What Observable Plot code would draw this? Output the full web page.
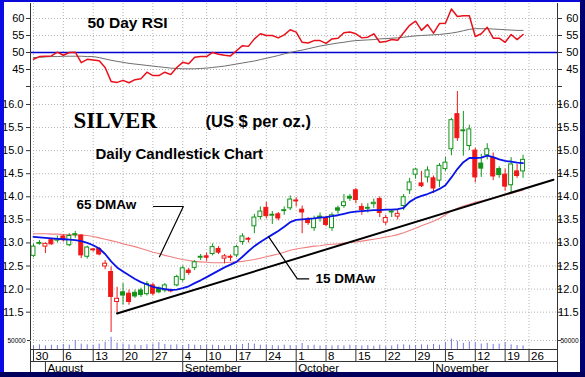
<!DOCTYPE html>
<html><head><meta charset="utf-8">
<script src="https://cdn.jsdelivr.net/npm/d3@7"></script>
<script src="https://cdn.jsdelivr.net/npm/@observablehq/plot@0.6"></script>
<style>
body{margin:0;background:#fff;}
#wrap{position:relative;width:585px;height:377px;overflow:hidden;background:#fff;font-family:"Liberation Sans",Arial,sans-serif;}
#wrap svg{position:absolute;left:0;}
.bd{position:absolute;}
</style></head><body>
<div id="wrap"></div>
<script>
// ---- data (trading days Jul 30 .. Nov 23, 2007; index 0..82) ----
const weekIdx    = [0,5,10,15,20,25,29,34,39,44,49,54,59,64,69,74,79,83];
const weekLabels = ["30","6","13","20","27","4","10","17","24","1","8","15","22","29","5","12","19","26"];
const monthIdx    = [2,25,44,67];
const monthLabels = ["August","September","October","November"];

const open  = [12.72,12.98,12.92,13.06,13.05,13.14,12.95,13.17,13.16,12.70,12.86,12.87,12.49,12.37,11.72,11.93,11.90,11.92,11.97,11.89,12.08,12.01,11.97,11.98,12.08,12.20,12.40,12.46,12.68,12.71,12.76,12.87,12.66,12.70,12.73,13.02,13.09,13.36,13.56,13.76,13.59,13.62,13.69,13.75,13.92,13.72,13.50,13.32,13.55,13.53,13.32,13.75,13.80,14.00,14.14,13.78,13.74,13.84,13.95,13.44,13.66,13.57,13.80,14.14,14.48,14.29,14.42,14.40,14.35,14.60,15.03,15.79,15.42,15.10,15.00,14.72,14.90,14.84,14.60,14.48,14.25,14.55,14.55];
const high  = [12.97,13.05,13.00,13.08,13.15,13.18,13.20,13.25,13.18,12.93,12.88,12.90,12.62,12.48,12.04,12.12,11.98,11.98,12.02,12.16,12.12,12.05,12.12,12.00,12.30,12.50,12.45,12.62,12.75,12.78,12.98,12.92,12.75,12.74,12.95,13.20,13.12,13.62,13.78,13.88,13.68,13.66,13.78,14.02,13.98,13.80,13.55,13.58,13.65,13.58,13.65,13.80,14.05,14.05,14.18,13.85,13.85,13.95,14.00,13.60,13.72,13.70,14.05,14.40,14.62,14.55,14.65,14.45,14.72,14.85,15.70,16.28,15.85,15.55,15.05,14.92,15.15,14.95,14.65,14.60,14.85,14.70,14.90];
const low   = [12.68,12.95,12.77,12.95,13.00,13.02,12.92,13.10,12.66,12.65,12.80,12.72,12.42,11.06,11.47,11.65,11.65,11.80,11.82,11.85,11.85,11.90,11.92,11.92,12.05,12.15,12.30,12.40,12.62,12.60,12.72,12.75,12.55,12.60,12.68,12.95,13.00,13.20,13.50,13.52,13.40,13.48,13.60,13.70,13.78,13.20,13.38,13.25,13.45,13.35,13.25,13.62,13.75,13.90,13.85,13.60,13.65,13.75,13.55,13.38,13.55,13.50,13.70,14.05,14.38,14.20,14.30,14.07,14.20,14.55,14.89,15.20,14.88,15.00,14.30,14.42,14.80,14.35,14.40,14.12,14.08,14.40,14.40];
const close = [12.92,13.00,12.98,12.97,13.08,13.06,13.15,13.19,12.73,12.90,12.84,12.75,12.55,11.83,11.79,11.86,11.72,11.84,11.87,12.11,11.90,11.93,12.08,11.95,12.26,12.45,12.35,12.58,12.70,12.68,12.91,12.79,12.71,12.68,12.91,13.14,13.07,13.55,13.68,13.58,13.61,13.53,13.71,13.94,13.90,13.66,13.43,13.52,13.57,13.39,13.60,13.70,13.88,13.96,13.93,13.71,13.76,13.87,13.65,13.54,13.68,13.63,13.99,14.31,14.59,14.23,14.57,14.18,14.67,14.74,15.66,15.27,15.44,15.46,14.42,14.61,15.03,14.44,14.47,14.22,14.70,14.45,14.80];
const volume = [22000,26000,20000,24000,22000,28000,24000,50000,30000,26000,24000,30000,40000,68000,36000,30000,26000,24000,22000,26000,30000,38000,28000,24000,26000,22000,28000,24000,22000,26000,24000,22000,20000,22000,26000,28000,34000,30000,24000,26000,22000,20000,24000,22000,20000,34000,22000,24000,20000,22000,20000,22000,20000,24000,22000,20000,22000,18000,24000,16000,20000,26000,26000,24000,22000,26000,24000,28000,24000,40000,58000,46000,34000,42000,38000,30000,34000,28000,30000,38000,26000,22000,20000];
const ma15 = [13.13,13.12,13.11,13.10,13.09,13.08,13.07,13.06,13.04,13.00,12.95,12.88,12.76,12.60,12.47,12.38,12.30,12.22,12.15,12.10,12.05,12.02,12.00,11.98,11.99,12.02,12.06,12.13,12.19,12.26,12.33,12.40,12.47,12.53,12.59,12.70,12.82,12.93,13.02,13.10,13.18,13.26,13.35,13.45,13.50,13.51,13.52,13.53,13.55,13.56,13.58,13.60,13.63,13.66,13.68,13.69,13.70,13.71,13.71,13.72,13.72,13.73,13.76,13.89,13.97,14.02,14.06,14.11,14.17,14.25,14.42,14.60,14.75,14.84,14.84,14.85,14.89,14.86,14.81,14.78,14.76,14.74,14.73];
const ma65 = [13.20,13.20,13.20,13.19,13.19,13.18,13.18,13.17,13.17,13.16,13.14,13.11,13.08,13.05,13.02,12.98,12.95,12.92,12.88,12.84,12.80,12.77,12.73,12.70,12.67,12.64,12.62,12.60,12.59,12.58,12.57,12.57,12.57,12.58,12.59,12.60,12.62,12.64,12.67,12.70,12.73,12.76,12.80,12.84,12.87,12.89,12.91,12.93,12.94,12.96,12.97,12.98,13.00,13.01,13.02,13.04,13.06,13.08,13.10,13.13,13.15,13.18,13.22,13.27,13.32,13.37,13.42,13.47,13.53,13.61,13.69,13.75,13.80,13.84,13.88,13.91,13.94,13.97,14.00,14.04,14.07,14.11,14.14];
const rsi = [48.0,48.8,48.9,49.0,50.1,49.2,50.0,50.1,47.0,48.0,47.8,47.6,45.6,41.5,41.2,41.8,41.1,42.0,42.3,44.2,43.2,43.2,44.2,43.5,45.6,47.1,46.7,48.6,48.8,48.8,50.0,49.5,49.2,49.0,50.5,52.0,51.8,54.0,55.5,55.0,55.0,54.3,55.2,56.7,56.0,53.0,52.8,53.5,53.5,52.7,54.0,54.2,55.8,56.0,55.5,54.3,54.5,55.5,53.0,53.2,53.8,53.6,55.8,58.0,59.2,56.5,58.2,55.7,58.5,58.6,62.8,60.6,60.8,60.8,54.7,55.5,57.4,54.2,54.2,53.0,55.3,53.8,55.3];
const rsiAvg = [48.5,48.6,48.7,48.8,48.8,48.9,48.9,48.9,48.9,48.8,48.8,48.5,48.1,47.7,47.4,47.1,46.8,46.6,46.4,46.2,46.0,45.8,45.6,45.4,45.3,45.2,45.2,45.2,45.3,45.4,45.6,45.8,46.0,46.3,46.6,46.9,47.2,47.5,47.9,48.3,48.7,49.1,49.6,50.0,50.4,50.7,51.1,51.5,51.9,52.2,52.5,52.8,53.0,53.3,53.5,53.6,53.7,53.8,54.0,54.1,54.2,54.3,54.5,54.7,54.9,55.0,55.1,55.2,55.3,55.5,55.7,56.0,56.4,56.8,57.0,57.0,57.0,56.9,56.8,56.7,56.6,56.5,56.5];
const trendX = [14, 87.1];
const trendY = [11.47, 14.37];
const lead65X = [20.1, 25.1, 21.1];
const lead65Y = [13.79, 13.79, 12.70];
const lead15X = [46.1, 44.2, 39.4];
const lead15Y = [12.22, 12.22, 13.13];
const rsiTicks = [40,45,50,55,60];
const priceTicks = [11.5,12.0,12.5,13.0,13.5,14.0,14.5,15.0,15.5,16.0];

// ---- layout ----
const W = 585, ML = 30, MR = 28;
const XD = [-0.5, 87.77];
const FONT = "Liberation Sans, Arial, sans-serif";
const GRID = {stroke: "#b4b4b4", strokeDasharray: "1,2", strokeWidth: 1};
const AX = "#333";
const green = "#12941a", red = "#f01818";
const idx = d3.range(close.length);
const bars = idx.map(i => {
  const gain = i === 0 ? close[i] >= open[i] : close[i] >= close[i - 1];
  const col = gain ? green : red;
  return {i, o: open[i], h: high[i], l: low[i], c: close[i], col, fill: close[i] >= open[i] ? "#ffffff" : col};
});
const wrap = document.getElementById("wrap");
function place(svg, top) { svg.style.top = top + "px"; wrap.appendChild(svg); }
const baseStyle = {background: "transparent", fontFamily: FONT, fontSize: "11px", color: "#000", overflow: "visible"};

// RSI panel
const rsiPlot = Plot.plot({
  width: W, height: 90, marginLeft: ML, marginRight: MR, marginTop: 3, marginBottom: 0,
  style: baseStyle,
  x: {domain: XD, axis: null, label: null},
  y: {domain: [38.82, 64.41], label: null},
  marks: [
    Plot.ruleY([40,45,55,60], GRID),
    Plot.ruleX(weekIdx, GRID),
    Plot.ruleY([50], {stroke: "#0000d0", strokeWidth: 1.6}),
    Plot.line(idx, {x: i => i, y: i => rsiAvg[i], stroke: "#6e6e6e", strokeWidth: 1}),
    Plot.line(idx, {x: i => i, y: i => rsi[i], stroke: "#e8101a", strokeWidth: 1.5}),
    Plot.ruleX(XD, {stroke: AX}),
    Plot.axisY(rsiTicks, {anchor: "left", tickSize: 4, tickPadding: 2, fontSize: 11, tickFormat: d => d === 40 ? "" : String(d), stroke: AX}),
    Plot.axisY(rsiTicks, {anchor: "right", tickSize: 4, tickPadding: 17, textAnchor: "end", fontSize: 11, tickFormat: d => d === 40 ? "" : String(d), stroke: AX}),
    Plot.text(["50 Day RSI"], {frameAnchor: "top-left", dx: 57, dy: 24, lineAnchor: "bottom", textAnchor: "start", text: d => d, fontSize: 15.5, fontWeight: "bold"})
  ]
});
place(rsiPlot, 0);

// Price panel
const pricePlot = Plot.plot({
  width: W, height: 259, marginLeft: ML, marginRight: MR, marginTop: 0, marginBottom: 0,
  style: baseStyle,
  x: {domain: XD, axis: null, label: null},
  y: {domain: [10.691, 16.303], label: null},
  marks: [
    Plot.ruleY(priceTicks, GRID),
    Plot.ruleX(weekIdx, GRID),
    Plot.line(idx, {x: i => i, y: i => ma65[i], stroke: "#f08080", strokeWidth: 1.1}),
    Plot.ruleX(bars, {x: "i", y1: "l", y2: "h", stroke: "col", strokeWidth: 1}),
    Plot.rect(bars, {x1: d => d.i - 0.33, x2: d => d.i + 0.33, y1: "o", y2: "c", fill: "fill", stroke: "col", strokeWidth: 1}),
    Plot.line(idx, {x: i => i, y: i => ma15[i], stroke: "#0a14e6", strokeWidth: 1.8}),
    Plot.line(trendX, {x: d => d, y: (d, i) => trendY[i], stroke: "#000", strokeWidth: 2}),
    Plot.line(lead65X, {x: d => d, y: (d, i) => lead65Y[i], stroke: "#000", strokeWidth: 1.2}),
    Plot.line(lead15X, {x: d => d, y: (d, i) => lead15Y[i], stroke: "#000", strokeWidth: 1.2}),
    Plot.ruleX(XD, {stroke: AX}),
    Plot.axisY(priceTicks, {anchor: "left", tickSize: 4, tickPadding: 3, fontSize: 11, tickFormat: d3.format(".1f"), stroke: AX}),
    Plot.axisY(priceTicks, {anchor: "right", tickSize: 4, tickPadding: 17, textAnchor: "end", fontSize: 11, tickFormat: d3.format(".1f"), stroke: AX}),
    Plot.text(["SILVER"], {frameAnchor: "top-left", dx: 43, dy: 37, lineAnchor: "bottom", textAnchor: "start", text: d => d, fontFamily: "Liberation Serif, Times New Roman, serif", fontSize: 23, fontWeight: "bold"}),
    Plot.text(["(US $ per oz.)"], {frameAnchor: "top-left", dx: 175, dy: 36, lineAnchor: "bottom", textAnchor: "start", text: d => d, fontSize: 16.5, fontWeight: "bold"}),
    Plot.text(["Daily Candlestick Chart"], {frameAnchor: "top-left", dx: 65, dy: 68.5, lineAnchor: "bottom", textAnchor: "start", text: d => d, fontSize: 15, fontWeight: "bold"}),
    Plot.text(["65 DMAw"], {frameAnchor: "top-left", dx: 46, dy: 118, lineAnchor: "bottom", textAnchor: "start", text: d => d, fontSize: 13.5, fontWeight: "bold"}),
    Plot.text(["15 DMAw"], {frameAnchor: "top-left", dx: 285, dy: 192, lineAnchor: "bottom", textAnchor: "start", text: d => d, fontSize: 13.5, fontWeight: "bold"})
  ]
});
place(pricePlot, 90);

// Volume overlay
const volPlot = Plot.plot({
  width: W, height: 49, marginLeft: ML, marginRight: MR, marginTop: 0, marginBottom: 0,
  style: baseStyle,
  x: {domain: XD, axis: null, label: null},
  y: {domain: [0, 272222], label: null},
  marks: [
    Plot.ruleY([50000], GRID),
    Plot.ruleX(idx, {x: i => i, y1: 0, y2: i => volume[i], stroke: "#7878e0", strokeWidth: 1}),
    Plot.axisY([50000], {anchor: "left", tickSize: 3, tickPadding: 2, fontSize: 6.5, tickFormat: d => String(d), stroke: AX}),
    Plot.axisY([50000], {anchor: "right", tickSize: 3, tickPadding: 18, textAnchor: "end", fontSize: 6.5, tickFormat: d => String(d), stroke: AX})
  ]
});
place(volPlot, 300);

// Date axis
const datePlot = Plot.plot({
  width: W, height: 24, marginLeft: ML, marginRight: MR, marginTop: 0, marginBottom: 0,
  style: baseStyle,
  x: {domain: XD, axis: null, label: null},
  y: {domain: [0, 2], axis: null, label: null},
  marks: [
    Plot.ruleY([2, 1], {stroke: AX}),
    Plot.ruleX(XD, {stroke: AX}),
    Plot.ruleX(weekIdx, {x: d => d, y1: 1, y2: 2, stroke: AX}),
    Plot.text(weekIdx, {x: d => d, y: 1, text: (d, i) => weekLabels[i], textAnchor: "start", lineAnchor: "bottom", dx: 2, dy: -1.5, fontSize: 11.5}),
    Plot.ruleX(monthIdx, {x: d => d, y1: 0, y2: 1, stroke: AX}),
    Plot.text(monthIdx, {x: d => d, y: 0, text: (d, i) => monthLabels[i], textAnchor: "start", lineAnchor: "bottom", dx: 2, dy: -2, fontSize: 11.5})
  ]
});
place(datePlot, 349);

// window border
[["0px","0px","585px","2px","#0a0ad8"],["0px","0px","4px","377px","#0a0ae6"],["580px","0px","5px","377px","#000070"],["0px","372px","585px","5px","#00005c"]]
  .forEach(([l,t,w,h,c]) => { const d = document.createElement("div"); d.className = "bd"; Object.assign(d.style, {left:l, top:t, width:w, height:h, background:c}); wrap.appendChild(d); });
</script></body></html>
